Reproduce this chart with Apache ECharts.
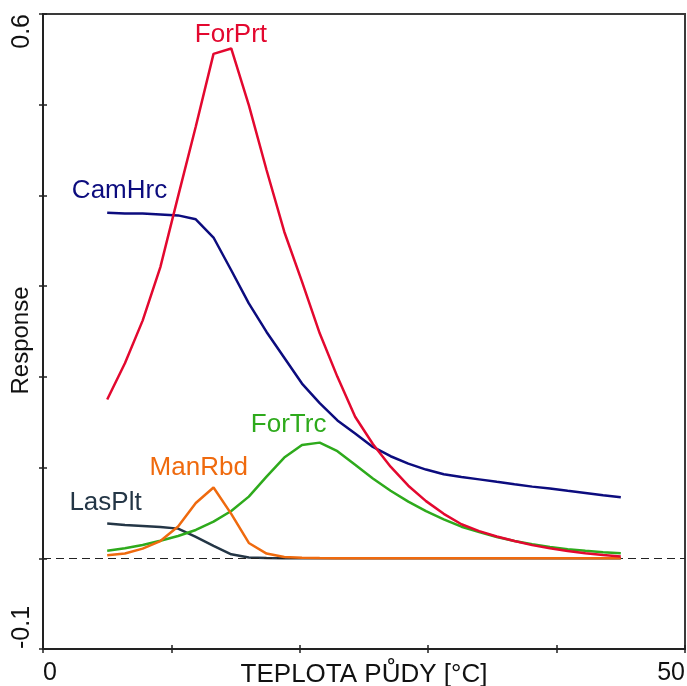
<!DOCTYPE html>
<html>
<head>
<meta charset="utf-8">
<script src="https://cdn.jsdelivr.net/npm/echarts@6/dist/echarts.min.js"></script>
<style>
html,body{margin:0;padding:0;background:#fff;}
#chart{width:687px;height:686px;}
</style>
</head>
<body>
<div id="chart"></div>
<script>
// ---- data ----
var temps = [5.00, 6.38, 7.76, 9.14, 10.52, 11.90, 13.28, 14.66, 16.03, 17.41,
             18.79, 20.17, 21.55, 22.93, 24.31, 25.69, 27.07, 28.45, 29.83, 31.21,
             32.59, 33.97, 35.34, 36.72, 38.10, 39.48, 40.86, 42.24, 43.62, 45.00];
var forPrt = [0.175, 0.215, 0.262, 0.321, 0.399, 0.476, 0.556, 0.562, 0.4995, 0.428,
              0.360, 0.305, 0.248, 0.200, 0.156, 0.126, 0.101, 0.080, 0.063, 0.049,
              0.0375, 0.030, 0.024, 0.019, 0.0145, 0.011, 0.008, 0.0055, 0.0035, 0.002];
var camHrc = [0.381, 0.380, 0.380, 0.379, 0.378, 0.3737, 0.3536, 0.3175, 0.281, 0.2495,
              0.221, 0.1926, 0.171, 0.152, 0.1375, 0.1227, 0.1125, 0.1044, 0.0978, 0.0926,
              0.0896, 0.087, 0.0843, 0.0816, 0.079, 0.077, 0.0744, 0.072, 0.0695, 0.0673];
var forTrc = [0.0084, 0.011, 0.0147, 0.0194, 0.0246, 0.0312, 0.0404, 0.0521, 0.068, 0.090,
              0.111, 0.125, 0.1275, 0.118, 0.103, 0.088, 0.0745, 0.0624, 0.052, 0.043,
              0.0348, 0.029, 0.0235, 0.019, 0.0155, 0.0125, 0.010, 0.0083, 0.0067, 0.0055];
var manRbd = [0.0033, 0.0052, 0.0107, 0.019, 0.035, 0.061, 0.078, 0.049, 0.0169, 0.0052,
              0.0015, 0.0005, 0.0002, 0.0001, 0, 0, 0, 0, 0, 0,
              0, 0, 0, 0, 0, 0, 0, 0, 0, 0];
var lasPlt = [0.0383, 0.0367, 0.0356, 0.0345, 0.0327, 0.0235, 0.0136, 0.0044, 0.0008, 0.0002,
              0.0001, 0, 0, 0, 0, 0, 0, 0, 0, 0,
              0, 0, 0, 0, 0, 0, 0, 0, 0, 0];
var xTickLabels = ['0', '50'];
var yTickLabels = ['-0.1', '0.6'];
var seriesNames = ['LasPlt', 'CamHrc', 'ForTrc', 'ManRbd', 'ForPrt'];

// ---- styling / layout ----
var FONT = "'Liberation Sans', Arial, Helvetica, sans-serif";
var colors = {ForPrt:'#e3082f', CamHrc:'#0c0c7e', ForTrc:'#2eaa1c', ManRbd:'#ef6a0e', LasPlt:'#243646'};
var labelAnchors = {
  ForPrt:[14.64, 0.577], CamHrc:[5.96, 0.405], ForTrc:[19.13, 0.147],
  ManRbd:[12.13, 0.100], LasPlt:[4.87, 0.061]
};
var values = {ForPrt:forPrt, CamHrc:camHrc, ForTrc:forTrc, ManRbd:manRbd, LasPlt:lasPlt};

function pairs(ys){ return temps.map(function(t,i){ return [t, ys[i]]; }); }
function near(a,b){ return Math.abs(a-b) < 1e-6; }

var series = [{
  type:'line', data:[], silent:true, z:1,
  markLine:{ silent:true, symbol:'none', label:{show:false},
    lineStyle:{color:'#222', type:[8,5], width:1},
    data:[{yAxis:0}] }
}];
seriesNames.forEach(function(n, k){
  series.push({
    name:n, type:'line', data:pairs(values[n]), showSymbol:false, symbol:'none',
    smooth:false, z:2+k, silent:true,
    lineStyle:{color:colors[n], width:2.5},
    markPoint:{
      silent:true, symbol:'rect', symbolSize:[1,1],
      itemStyle:{color:'rgba(0,0,0,0)'},
      label:{show:true, position:'inside', formatter:n, color:colors[n], fontSize:26, fontFamily:FONT},
      data:[{coord:labelAnchors[n]}]
    }
  });
});

var chart = echarts.init(document.getElementById('chart'), null, {renderer:'canvas'});
chart.setOption({
  animation:false,
  backgroundColor:'#fff',
  grid:{left:43, right:2, top:14, bottom:37, containLabel:false, outerBoundsMode:'none',
        show:true, borderColor:'#3a3a3a', borderWidth:2, backgroundColor:'transparent'},
  xAxis:[{
    type:'value', min:0, max:50, interval:10,
    name:'TEPLOTA PŮDY [°C]', nameLocation:'middle', nameGap:13, nameMoveOverlap:false,
    nameTextStyle:{fontSize:26, color:'#111', fontFamily:FONT, verticalAlign:'top'},
    axisLine:{show:true, onZero:false, lineStyle:{color:'#222', width:2}},
    axisTick:{show:true, length:4, lineStyle:{color:'#222', width:1.5}},
    splitLine:{show:false},
    axisLabel:{fontSize:25, color:'#111', fontFamily:FONT, margin:12,
      alignMinLabel:'left', alignMaxLabel:'right',
      formatter:function(v){ if(near(v,0)) return xTickLabels[0]; if(near(v,50)) return xTickLabels[1]; return ''; }}
  },{
    type:'value', min:0, max:50, interval:10, position:'bottom',
    axisLine:{show:false, onZero:false}, axisLabel:{show:false}, splitLine:{show:false},
    axisTick:{show:true, inside:true, length:4, lineStyle:{color:'#222', width:1.5}}
  }],
  yAxis:[{
    type:'value', min:-0.1, max:0.6, interval:0.1,
    name:'Response', nameLocation:'middle', nameGap:10, nameRotate:90, nameMoveOverlap:false,
    nameTextStyle:{fontSize:24, color:'#111', fontFamily:FONT, verticalAlign:'bottom', padding:[0,18,0,0]},
    axisLine:{show:true, onZero:false, lineStyle:{color:'#222', width:2}},
    axisTick:{show:true, length:4, lineStyle:{color:'#222', width:1.5}},
    splitLine:{show:false},
    axisLabel:{fontSize:25, color:'#111', fontFamily:FONT, margin:8, rotate:90,
      alignMinLabel:'left', alignMaxLabel:'right',
      formatter:function(v){ if(near(v,-0.1)) return yTickLabels[0]; if(near(v,0.6)) return yTickLabels[1]; return ''; }}
  },{
    type:'value', min:-0.1, max:0.6, interval:0.1, position:'left',
    axisLine:{show:false, onZero:false}, axisLabel:{show:false}, splitLine:{show:false},
    axisTick:{show:true, inside:true, length:4, lineStyle:{color:'#222', width:1.5}}
  }],
  series:series
});
</script>
</body>
</html>
